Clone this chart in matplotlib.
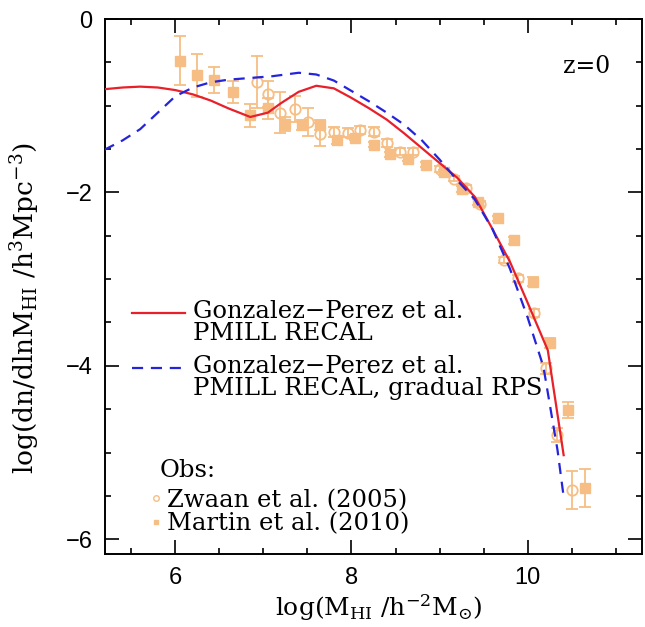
import numpy as np
import matplotlib
matplotlib.use("Agg")
import matplotlib.pyplot as plt
from matplotlib.ticker import MultipleLocator
from matplotlib.legend_handler import HandlerLine2D
from matplotlib.lines import Line2D

# ---- data ----
red_x = [5.19, 5.4, 5.6, 5.8, 6.0, 6.2, 6.4, 6.6, 6.85, 7.05, 7.2, 7.4, 7.6, 7.8,
         8.0, 8.2, 8.4, 8.6, 8.8, 9.0, 9.2, 9.4, 9.6, 9.8, 10.0, 10.23, 10.41]
red_y = [-0.81, -0.79, -0.78, -0.79, -0.82, -0.87, -0.94, -1.03, -1.13, -1.08, -0.97,
         -0.84, -0.77, -0.80, -0.91, -1.03, -1.16, -1.32, -1.49, -1.66, -1.83, -2.05,
         -2.42, -2.80, -3.27, -3.82, -5.03]

blue_x = [5.19, 5.4, 5.6, 5.8, 6.0, 6.2, 6.4, 6.6, 6.85, 7.1, 7.4, 7.6, 7.8, 8.0,
          8.2, 8.4, 8.6, 8.8, 9.0, 9.2, 9.4, 9.6, 9.8, 10.0, 10.18, 10.34, 10.41]
blue_y = [-1.51, -1.40, -1.27, -1.08, -0.89, -0.79, -0.73, -0.70, -0.68, -0.66, -0.62,
          -0.64, -0.71, -0.83, -0.95, -1.08, -1.22, -1.40, -1.62, -1.86, -2.08, -2.42,
          -2.88, -3.44, -4.01, -4.97, -5.51]

zwaan_x = [6.93, 7.05, 7.19, 7.36, 7.51, 7.64, 7.80, 7.96, 8.10, 8.25, 8.40, 8.55,
           8.70, 9.01, 9.16, 9.30, 9.46, 9.73, 9.89, 10.07, 10.21, 10.34, 10.51]
zwaan_y = [-0.73, -0.87, -1.08, -1.04, -1.19, -1.33, -1.30, -1.31, -1.28, -1.30, -1.43,
           -1.53, -1.53, -1.73, -1.84, -1.95, -2.13, -2.78, -2.99, -3.39, -4.03, -4.80,
           -5.43]
zwaan_err = [0.30, 0.15, 0.24, 0.15, 0.16, 0.13, 0.06, 0.05, 0.05, 0.05, 0.05, 0.04,
             0.04, 0.03, 0.03, 0.03, 0.03, 0.03, 0.04, 0.05, 0.06, 0.08, 0.22]

martin_x = [6.05, 6.24, 6.44, 6.65, 6.85, 7.05, 7.24, 7.44, 7.64, 7.84, 8.04, 8.25,
            8.44, 8.64, 8.85, 9.05, 9.26, 9.44, 9.66, 9.85, 10.06, 10.26, 10.46, 10.65]
martin_y = [-0.48, -0.65, -0.70, -0.84, -1.11, -1.03, -1.21, -1.22, -1.22, -1.40, -1.37,
            -1.45, -1.56, -1.61, -1.68, -1.77, -1.96, -2.11, -2.30, -2.55, -3.03, -3.74,
            -4.51, -5.41]
martin_err = [0.28, 0.25, 0.15, 0.13, 0.13, 0.12, 0.08, 0.06, 0.06, 0.04, 0.03, 0.03,
              0.03, 0.03, 0.03, 0.03, 0.03, 0.03, 0.03, 0.04, 0.05, 0.06, 0.09, 0.22]

label_red = "Gonzalez\u2212Perez et al.\nPMILL RECAL"
label_blue = "Gonzalez\u2212Perez et al.\nPMILL RECAL, gradual RPS"
label_zwaan = "Zwaan et al. (2005)"
label_martin = "Martin et al. (2010)"

# ---- style ----
plt.rcParams['font.family'] = ['DejaVu Serif']
plt.rcParams['mathtext.fontset'] = 'dejavuserif'

OBS = '#F6BE84'
RED = '#E8202A'
BLUE = '#2424DC'
FS = 17.5

fig = plt.figure(figsize=(6.45, 6.27), dpi=100)
ax = fig.add_axes([105/645, 1-554/627, 537/645, 535/627])

ax.errorbar(martin_x, martin_y, yerr=martin_err, fmt='s', color=OBS, ms=6.5,
            mec=OBS, mfc=OBS, elinewidth=1.3, capsize=4, capthick=1.3, zorder=2)
ax.errorbar(zwaan_x, zwaan_y, yerr=zwaan_err, fmt='o', color=OBS, ms=7.5,
            mec=OBS, mfc='none', mew=1.3, elinewidth=1.3, capsize=4, capthick=1.3,
            zorder=2)

l_red, = ax.plot(red_x, red_y, color=RED, lw=1.6, zorder=3)
l_blue, = ax.plot(blue_x, blue_y, color=BLUE, lw=1.6, dashes=(5, 3.5), zorder=3)

ax.set_xlim(5.2, 11.3)
ax.set_ylim(-6.17, 0)
ax.xaxis.set_major_locator(MultipleLocator(2))
ax.xaxis.set_minor_locator(MultipleLocator(0.5))
ax.yaxis.set_major_locator(MultipleLocator(2))
ax.yaxis.set_minor_locator(MultipleLocator(0.5))
ax.tick_params(which='both', direction='in', top=True, right=True, width=1.2,
               labelsize=17, pad=9)
ax.tick_params(which='major', length=10)
ax.tick_params(which='minor', length=4.5)
for lab in ax.get_xticklabels() + ax.get_yticklabels():
    lab.set_family('Liberation Sans')
for sp in ax.spines.values():
    sp.set_linewidth(1.4)

ax.set_xlabel(r'log(M$_{\rm HI}$ /h$^{-2}$M$_{\odot}$)', fontsize=18)
ax.set_ylabel(r'log(dn/dlnM$_{\rm HI}$ /h$^{3}$Mpc$^{-3}$)', fontsize=19)
ax.yaxis.set_label_coords(-0.118, 0.46)
ax.xaxis.set_label_coords(0.51, -0.072)

ax.text(0.896, 0.912, 'z=0', transform=ax.transAxes, fontsize=17, ha='center',
        va='center')


class FirstLineHandler(HandlerLine2D):
    def create_artists(self, legend, orig_handle, xdescent, ydescent, width,
                       height, fontsize, trans):
        arts = super().create_artists(legend, orig_handle, xdescent, ydescent,
                                      width, height, fontsize, trans)
        for a in arts:
            a.set_ydata(np.asarray(a.get_ydata()) + 0.42 * fontsize)
        return arts


leg1 = ax.legend([l_red, l_blue], [label_red, label_blue], loc='upper left',
                 bbox_to_anchor=(0.05, 0.475), frameon=False, fontsize=FS,
                 handlelength=2.2, handletextpad=0.3, labelspacing=0.4,
                 borderpad=0, borderaxespad=0,
                 handler_map={Line2D: FirstLineHandler()})
for t in leg1.get_texts():
    t.set_linespacing(0.95)
ax.add_artist(leg1)

ax.text(0.102, 0.157, 'Obs:', transform=ax.transAxes, fontsize=FS, ha='left',
        va='center')
h_z = Line2D([], [], ls='none', marker='o', mfc='none', mec=OBS, ms=4, mew=1)
h_m = Line2D([], [], ls='none', marker='s', mfc=OBS, mec=OBS, ms=3.5)
leg2 = ax.legend([h_z, h_m], [label_zwaan, label_martin], loc='upper left',
                 bbox_to_anchor=(0.086, 0.122), frameon=False, fontsize=FS,
                 handlelength=0.4, handletextpad=0.25, labelspacing=0.02,
                 borderpad=0, borderaxespad=0)

fig.savefig('out.png', dpi=100)
